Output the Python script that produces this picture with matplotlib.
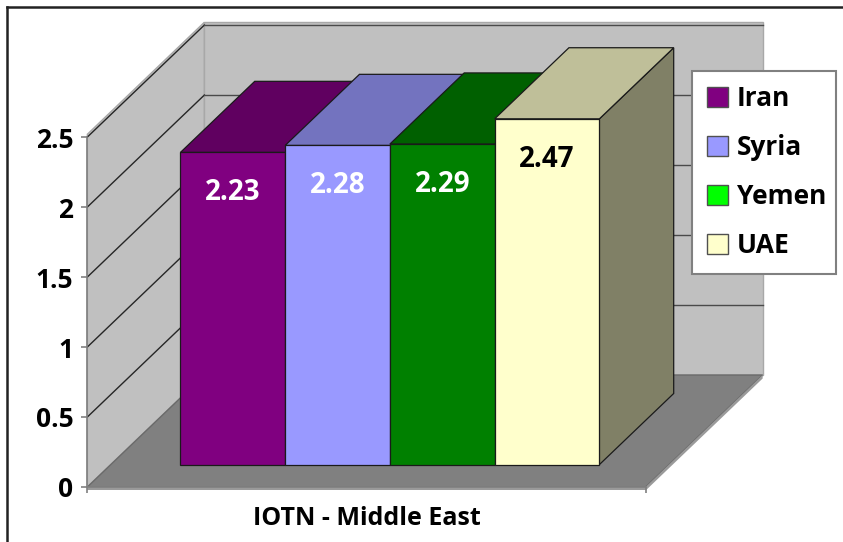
import matplotlib.pyplot as plt
from matplotlib.patches import Polygon, Patch
from matplotlib.lines import Line2D
import numpy as np

plt.rcParams['font.family'] = ['Open Sans', 'DejaVu Sans']
plt.rcParams['font.weight'] = 'bold'

# IOTN scores, Middle East
countries = ['Iran', 'Syria', 'Yemen', 'UAE']
scores = [2.23, 2.28, 2.29, 2.47]
category = 'IOTN - Middle East'
y_ticks = [0, 0.5, 1, 1.5, 2, 2.5]

front_colors = ['#800080', '#9999ff', '#008000', '#ffffcc']
legend_colors = ['#800080', '#9999ff', '#00ff00', '#ffffcc']
label_colors = ['white', 'white', 'white', 'black']

# oblique projection: full depth of the box moves a point by (DX, DY)
DX, DY = 1.117, 0.8
D_FRONT, D_BACK = 0.2, 0.835   # bar depth range inside the box
GAP = 0.665                     # space between outer bars and walls
WALL = '#c0c0c0'
FLOOR = '#808080'


def shade(color, k):
    r, g, b = plt.matplotlib.colors.to_rgb(color)
    return (r * k, g * k, b * k)


def off(x, y, d):
    return (x + DX * d, y + DY * d)


fig = plt.figure(figsize=(8.43, 5.42), dpi=100)
ax = fig.add_axes([0, 0, 1, 1])
ax.set_xlim(-3.499, 4.549)
ax.set_ylim(-0.393, 3.479)

n = len(countries)
x_left = -n / 2 - GAP
x_right = n / 2 + GAP
y_top = y_ticks[-1] + 0.02

# walls and floor
side_wall = [off(x_left, 0, 0), off(x_left, y_top, 0), off(x_left, y_top, 1), off(x_left, 0, 1)]
back_wall = [off(x_left, 0, 1), off(x_left, y_top, 1), off(x_right, y_top, 1), off(x_right, 0, 1)]
floor = [off(x_left, 0, 0), off(x_right, 0, 0), off(x_right, 0, 1), off(x_left, 0, 1)]
ax.add_patch(Polygon(side_wall, closed=True, fc=WALL, ec='#a8a8a8', lw=1, zorder=1))
ax.add_patch(Polygon(back_wall, closed=True, fc=WALL, ec='#a8a8a8', lw=1, zorder=1))
ax.add_patch(Polygon(floor, closed=True, fc=FLOOR, ec='#6a6a6a', lw=1, zorder=1))
# floor thickness
t = 0.025
ax.add_patch(Polygon([off(x_left, -t, 0), off(x_right, -t, 0), off(x_right, 0, 0), off(x_left, 0, 0)],
                     closed=True, fc='#9a9a9a', ec='none', zorder=1))
ax.add_patch(Polygon([off(x_right, -t, 0), off(x_right, -t, 1), off(x_right, 0, 1), off(x_right, 0, 0)],
                     closed=True, fc='#9a9a9a', ec='none', zorder=1))

# gridlines on the walls
for v in y_ticks[1:]:
    p0, p1, p2 = off(x_left, v, 0), off(x_left, v, 1), off(x_right, v, 1)
    ax.plot([p0[0], p1[0]], [p0[1], p1[1]], color='#262626', lw=1, zorder=1.5)
    ax.plot([p1[0], p2[0]], [p1[1], p2[1]], color='#4a4a4a', lw=1, zorder=1.5)

# 3D bars
for i, (name, h) in enumerate(zip(countries, scores)):
    x0 = -n / 2 + i
    x1 = x0 + 1
    c = front_colors[i]
    side = [off(x1, 0, D_FRONT), off(x1, 0, D_BACK), off(x1, h, D_BACK), off(x1, h, D_FRONT)]
    top = [off(x0, h, D_FRONT), off(x1, h, D_FRONT), off(x1, h, D_BACK), off(x0, h, D_BACK)]
    front = [off(x0, 0, D_FRONT), off(x1, 0, D_FRONT), off(x1, h, D_FRONT), off(x0, h, D_FRONT)]
    z = 3 + i
    ax.add_patch(Polygon(side, closed=True, fc=shade(c, 0.5), ec='#1a1a1a', lw=0.9, zorder=z))
    ax.add_patch(Polygon(top, closed=True, fc=shade(c, 0.75), ec='#1a1a1a', lw=0.9, zorder=z))
    ax.add_patch(Polygon(front, closed=True, fc=c, ec='#1a1a1a', lw=0.9, zorder=z))
    cx, cy = off(x0 + 0.5, h, D_FRONT)
    ax.annotate(f'{h:.2f}', (cx, cy), xytext=(0, -29), textcoords='offset points',
                ha='center', va='center', fontsize=20, fontweight='bold',
                color=label_colors[i], zorder=10)

# axes lines
for s in ['top', 'right']:
    ax.spines[s].set_visible(False)
ax.spines['left'].set_position(('data', x_left))
ax.spines['left'].set_bounds(0, y_ticks[-1])
ax.spines['bottom'].set_position(('data', 0))
ax.spines['bottom'].set_bounds(x_left, x_right)
for s in ['left', 'bottom']:
    ax.spines[s].set_color('#808080')
    ax.spines[s].set_linewidth(1.2)
    ax.spines[s].set_zorder(2)
ax.set_yticks(y_ticks)
ax.set_yticklabels([f'{v:g}' for v in y_ticks], fontsize=19, fontweight='bold')
ax.set_xticks([x_left, x_right])
ax.set_xticklabels([])
ax.tick_params(axis='both', direction='out', length=4, width=1.2, color='#808080')
ax.tick_params(axis='y', pad=6)
ax.patch.set_visible(False)

ax.annotate(category, (0, 0), xytext=(0, -23), textcoords='offset points',
            ha='center', va='center', fontsize=18, fontweight='bold')

handles = [Patch(fc=legend_colors[i], ec='#505050', lw=1) for i in range(n)]
leg = fig.legend(handles, countries, loc='upper left',
                 bbox_to_anchor=(692 / 843, 1 - 76.4 / 542, 144 / 843, 0.01), mode='expand',
                 fontsize=19, frameon=True, fancybox=False, framealpha=1, borderpad=0.55,
                 handlelength=0.8, handleheight=0.8, handletextpad=0.35,
                 labelspacing=0.83, borderaxespad=0)
leg.get_frame().set_edgecolor('#808080')
leg.get_frame().set_linewidth(1.5)
for txt in leg.get_texts():
    txt.set_fontweight('bold')

# outer frame
fig.add_artist(Line2D([7 / 843, 1], [1 - 7 / 542, 1 - 7 / 542], transform=fig.transFigure,
                      color='#222222', lw=1.8))
fig.add_artist(Line2D([7 / 843, 7 / 843], [0, 1 - 7 / 542], transform=fig.transFigure,
                      color='#222222', lw=1.8))

fig.savefig('out.png', dpi=100)
